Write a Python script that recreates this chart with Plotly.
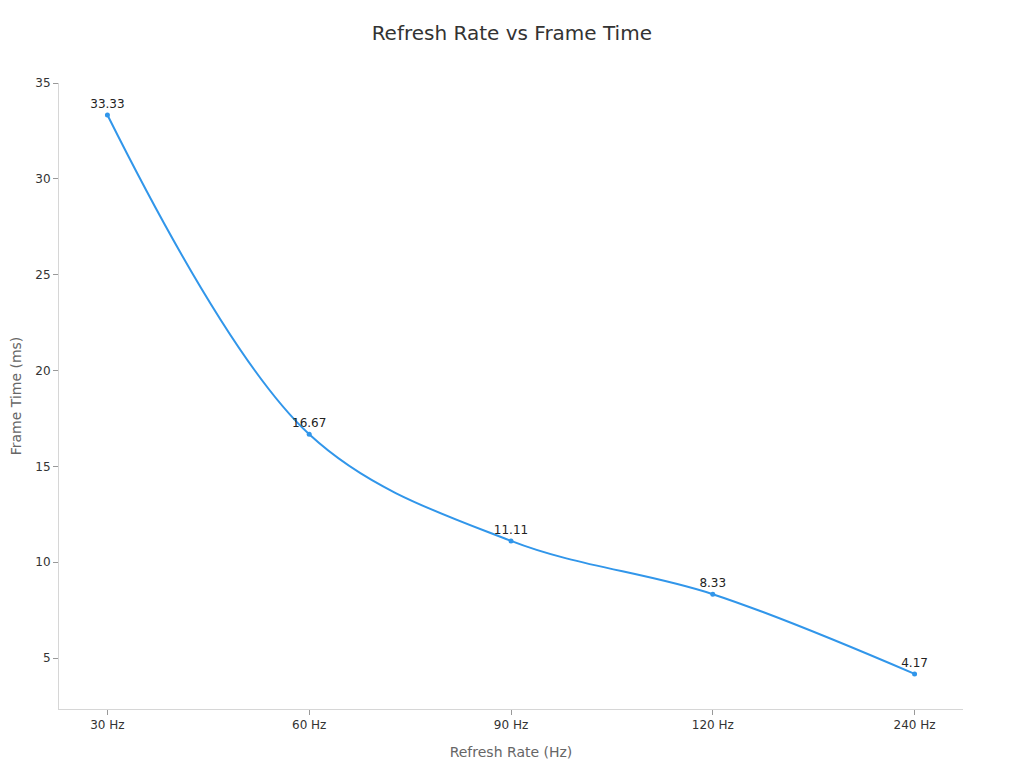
import plotly.graph_objects as go

# Refresh rate categories and matching frame time (ms)
refresh_rates = ["30 Hz", "60 Hz", "90 Hz", "120 Hz", "240 Hz"]
frame_times = [33.33, 16.67, 11.11, 8.33, 4.17]
point_labels = ["33.33", "16.67", "11.11", "8.33", "4.17"]

fig = go.Figure()
fig.add_trace(go.Scatter(
    x=refresh_rates, y=frame_times,
    mode="lines+markers+text",
    text=point_labels, textposition="top center",
    textfont=dict(size=12, color="#222"),
    line=dict(color="#3196EA", width=2, shape="spline", smoothing=1),
    marker=dict(size=5, color="#3196EA"),
    showlegend=False,
))

fig.update_layout(
    title=dict(text="Refresh Rate vs Frame Time", x=0.492, y=0.977, xanchor="center",
               font=dict(size=20, color="#333")),
    width=1024, height=768,
    margin=dict(l=51, r=69, t=75, b=67),
    plot_bgcolor="white", paper_bgcolor="white",
    font=dict(family="DejaVu Sans", size=12, color="#333"),
)
fig.update_xaxes(
    title=dict(text="Refresh Rate (Hz)", font=dict(size=14, color="#666")),
    range=[-0.24, 4.24], showgrid=False, showline=True, linecolor="#d6d6d6",
    ticks="outside", tickcolor="#999", ticklen=5, automargin=False,
)
fig.update_yaxes(
    title=dict(text="Frame Time (ms)", font=dict(size=14, color="#666")),
    range=[2.34, 35], tickvals=[5, 10, 15, 20, 25, 30, 35],
    showgrid=False, showline=True, linecolor="#d6d6d6", zeroline=False,
    ticks="outside", tickcolor="#999", ticklen=5, automargin=False,
)

fig.write_html("out.html")
